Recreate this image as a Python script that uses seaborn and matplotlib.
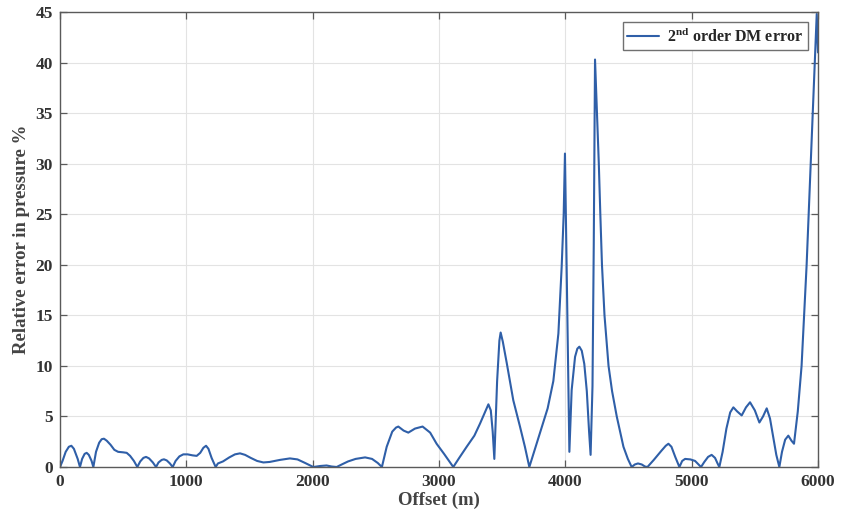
import matplotlib
matplotlib.use("Agg")
import matplotlib.pyplot as plt
import seaborn as sns
import pandas as pd

# Offset along the receiver line (m)
offset_m = [
    0, 20, 45, 70, 90, 110, 140, 158, 175, 195, 211, 228, 250, 264,
    285, 310, 330, 348, 370, 400, 430, 460, 500, 528, 555, 585, 612,
    635, 660, 681, 705, 735, 760, 780, 805, 823, 845, 870, 892,
    915, 945, 976, 1010, 1050, 1082, 1110, 1135, 1156, 1175, 1200, 1232,
    1250, 1290, 1340, 1385, 1425, 1465, 1510, 1560, 1610, 1660, 1740,
    1820, 1880, 1940, 2005, 2060, 2110, 2150, 2190, 2230, 2280, 2340,
    2415, 2470, 2515, 2548, 2586, 2630, 2660, 2678, 2720, 2757, 2810,
    2870, 2930, 2981, 3040, 3113, 3160, 3219, 3280, 3325, 3370, 3391,
    3410, 3425, 3438, 3460, 3478, 3488, 3505, 3536, 3588, 3641, 3680,
    3715, 3760, 3810, 3860, 3905, 3945, 3971, 3987, 3997, 4015,
    4032, 4050, 4077, 4095, 4111, 4130, 4150, 4170, 4188, 4200, 4215,
    4225, 4235, 4250, 4265, 4277, 4290, 4310, 4342, 4370, 4407, 4460,
    4495, 4525, 4550, 4575, 4605, 4630, 4650, 4700, 4760, 4795, 4816,
    4840, 4870, 4903, 4925, 4948, 4990, 5027, 5055, 5074, 5100, 5130,
    5158, 5185, 5205, 5219, 5245, 5275, 5305, 5330, 5360, 5396, 5430,
    5462, 5500, 5536, 5565, 5594, 5620, 5645, 5670, 5694, 5715, 5740,
    5765, 5790, 5810, 5840, 5870, 5910, 5942, 5970, 5990, 6000,
]

# Relative error of the 2nd order DM pressure (%)
error_pct = [
    0.0, 0.6, 1.5, 2.0, 2.1, 1.8, 0.8, 0.0, 0.8, 1.3, 1.4, 1.2, 0.6, 0.0,
    1.5, 2.4, 2.75, 2.8, 2.6, 2.2, 1.7, 1.5, 1.45, 1.4, 1.1, 0.6, 0.0,
    0.55, 0.9, 1.0, 0.85, 0.45, 0.0, 0.45, 0.7, 0.76, 0.65, 0.35, 0.0,
    0.6, 1.05, 1.25, 1.25, 1.15, 1.1, 1.4, 1.9, 2.1, 1.8, 0.9, 0.0,
    0.35, 0.55, 0.95, 1.25, 1.35, 1.2, 0.9, 0.6, 0.45, 0.5, 0.7,
    0.85, 0.75, 0.4, 0.0, 0.1, 0.15, 0.05, 0.0, 0.25, 0.55, 0.8,
    0.95, 0.8, 0.4, 0.0, 2.0, 3.5, 3.9, 4.0, 3.6, 3.4, 3.8,
    4.0, 3.4, 2.3, 1.3, 0.0, 0.9, 2.0, 3.1, 4.3, 5.6, 6.2,
    5.6, 3.5, 0.8, 8.5, 12.5, 13.3, 12.4, 10.3, 6.6, 4.0, 2.0,
    0.0, 1.8, 3.8, 5.8, 8.5, 13.2, 19.8, 25.0, 31.0, 15.8,
    1.5, 7.6, 10.9, 11.7, 11.9, 11.5, 10.2, 7.5, 3.5, 1.2, 8.0,
    22.0, 40.3, 35.0, 30.0, 25.0, 20.0, 15.0, 10.0, 7.5, 5.0, 2.0,
    0.8, 0.0, 0.25, 0.35, 0.25, 0.05, 0.0, 0.7, 1.6, 2.1, 2.3,
    2.0, 1.0, 0.0, 0.6, 0.8, 0.75, 0.6, 0.25, 0.0, 0.5, 1.0,
    1.2, 0.9, 0.35, 0.0, 1.5, 3.8, 5.4, 5.9, 5.5, 5.1, 5.9,
    6.4, 5.6, 4.4, 5.0, 5.8, 4.8, 3.0, 1.2, 0.0, 1.5, 2.7,
    3.1, 2.6, 2.3, 5.5, 10.0, 20.0, 30.0, 38.5, 44.8, 41.0,
]

x_ticks = [0, 1000, 2000, 3000, 4000, 5000, 6000]
y_ticks = [0, 5, 10, 15, 20, 25, 30, 35, 40, 45]
series_label = r"2$^{\mathbf{nd}}$ order DM error"

df = pd.DataFrame({"Offset": offset_m, "Error": error_pct})

sns.set_theme(style="whitegrid")
plt.rcParams["font.family"] = ["Liberation Serif", "DejaVu Serif"]
plt.rcParams["mathtext.fontset"] = "custom"
plt.rcParams["mathtext.rm"] = "Liberation Serif"
plt.rcParams["mathtext.bf"] = "Liberation Serif:bold"

fig = plt.figure(figsize=(8.42, 5.25), dpi=100)
ax = fig.add_axes([60 / 842, 58 / 525, 758 / 842, 455 / 525])

sns.lineplot(data=df, x="Offset", y="Error", ax=ax, sort=False,
             estimator=None, color="#2f5fa8", linewidth=1.5,
             label=series_label)

ax.set_xlim(0, 6000)
ax.set_ylim(0, 45)
ax.set_xticks(x_ticks)
ax.set_yticks(y_ticks)

ax.grid(True, color="#e3e3e3", linewidth=0.8)
ax.set_facecolor("white")
for sp in ax.spines.values():
    sp.set_color("#5a5a5a")
    sp.set_linewidth(1.0)
    sp.set_visible(True)

ax.tick_params(axis="both", which="both", direction="in", length=5,
               width=0.9, color="#5a5a5a", top=True, right=True,
               bottom=True, left=True, labelsize=12.5, labelcolor="#333333",
               pad=5)
for lab in ax.get_xticklabels() + ax.get_yticklabels():
    lab.set_fontweight("bold")

ax.set_xlabel("Offset (m)", fontsize=13.5, fontweight="bold",
              color="#444444", labelpad=1)
ax.set_ylabel("Relative error in pressure %", fontsize=13.5,
              fontweight="bold", color="#444444", labelpad=4)

leg = ax.legend(loc="upper right", frameon=True, fancybox=False,
                edgecolor="#707070", framealpha=1, borderpad=0.3,
                borderaxespad=0, handlelength=2.0, handletextpad=0.5,
                prop={"weight": "bold", "size": 11.5},
                bbox_to_anchor=(0.987, 0.978))
leg.get_frame().set_linewidth(1.0)

fig.savefig("out.png", dpi=100, facecolor="white")
